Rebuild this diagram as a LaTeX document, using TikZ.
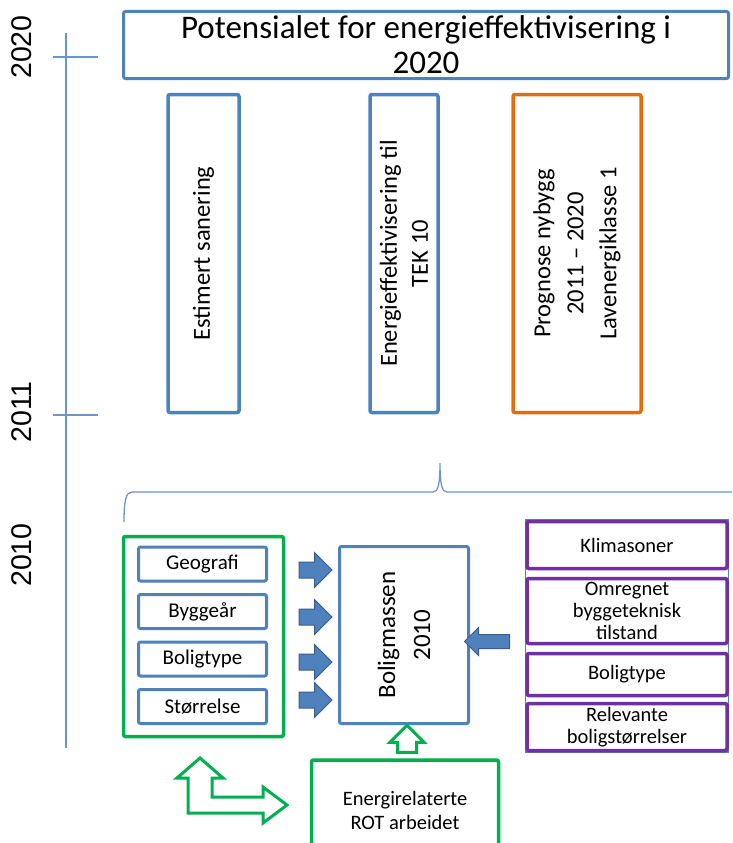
\documentclass[tikz,border=0pt]{standalone}
\usepackage{fontspec}
\setmainfont{Carlito}
\newfontfamily\yearfont{Liberation Sans}
\usepackage{xcolor}
\usepackage{tikz}
\usetikzlibrary{shapes.arrows}

\definecolor{boxblue}{HTML}{4F81BD}
\definecolor{arrowedge}{HTML}{385D8A}
\definecolor{axisblue}{HTML}{6C94CB}
\definecolor{boxgreen}{HTML}{00B050}
\definecolor{boxpurple}{HTML}{7030A0}
\definecolor{boxorange}{HTML}{E46C0A}

\begin{document}
\begin{tikzpicture}[
  x=1pt, y=-1pt,
  every node/.style={inner sep=0pt},
  box/.style={draw, line width=3.5pt, rounded corners=2pt, fill=white, align=center},
  bluebox/.style={box, draw=boxblue},
  greenbox/.style={box, draw=boxgreen},
  orangebox/.style={box, draw=boxorange},
  purplebox/.style={box, draw=boxpurple, minimum width=200, font=\fontsize{20.5}{22}\selectfont},
  itembox/.style={bluebox, line width=3pt, minimum width=128, minimum height=34, font=\fontsize{21}{22}\selectfont},
  upright/.style={rotate=90, font=\fontsize{24.5}{31}\selectfont},
  yearlabel/.style={rotate=90, font=\yearfont\fontsize{28.5}{30}\selectfont},
  blockarrow/.style={shape=single arrow, draw=arrowedge, fill=boxblue, line width=1pt,
    single arrow head extend=9.5pt, inner xsep=0pt, inner ysep=7.5pt, minimum height=33pt},
  hollowarrow/.style={shape=single arrow, draw=boxgreen, fill=white, line width=3pt,
    inner ysep=0pt},
  axis/.style={draw=axisblue, line width=1.8pt}
  ]

\clip (0,0) rectangle (732,843);

% Timeline
\coordinate (axTop) at (66,33);
\coordinate (axBot) at (66,748);
\coordinate (tickL20) at (53,57);
\coordinate (tickR20) at (98,57);
\coordinate (tickL11) at (53,415);
\coordinate (tickR11) at (98,415);
\draw[axis] (axTop) -- (axBot);
\draw[axis] (tickL20) -- (tickR20);
\draw[axis] (tickL11) -- (tickR11);
\node[yearlabel] (y2020) at (22,47) {2020};
\node[yearlabel] (y2011) at (22,412) {2011};
\node[yearlabel] (y2010) at (22,555) {2010};

% Target 2020
\node[bluebox, line width=3pt, minimum width=605, minimum height=67,
  font=\fontsize{33}{35}\selectfont] (title) at (426,45)
  {Potensialet for energieffektivisering i\\2020};
\node[bluebox, upright, minimum width=318, minimum height=71] (sanering) at (203.5,253.5)
  {Estimert sanering};
\node[bluebox, upright, minimum width=318, minimum height=68] (tek) at (404,253.5)
  {Energieffektivisering til\\TEK 10};
\node[orangebox, upright, minimum width=318, minimum height=128,
  font=\fontsize{24.5}{33}\selectfont] (nybygg) at (577,253.5)
  {Prognose nybygg\\2011 -- 2020\\Lavenergiklasse 1};

% Brace
\draw[axis, line width=1.3pt] (124,522) .. controls (124,500) and (126,492) .. (132,492)
  -- (433,492) .. controls (438,492) and (440,485) .. (440,463)
  .. controls (440,485) and (442,492) .. (447,492) -- (760,492);

% Housing stock 2010
\node[greenbox, minimum width=160, minimum height=200] (drivers) at (203.5,636.5) {};
\node[itembox] (geo) at (202.5,564) {Geografi};
\node[itembox] (built) at (202.5,611.5) {Byggeår};
\node[itembox] (kind) at (202.5,659) {Boligtype};
\node[itembox] (size) at (202.5,706.5) {Størrelse};

\node[bluebox, upright, line width=3pt, minimum width=177, minimum height=129,
  font=\fontsize{25}{35}\selectfont] (stock) at (404,635) {Boligmassen\\2010};

\node[blockarrow] (arrGeo) at (311.5,570) {};
\node[blockarrow] (arrBuilt) at (311.5,617) {};
\node[blockarrow] (arrKind) at (311.5,662) {};
\node[blockarrow] (arrSize) at (311.5,700) {};

% Sources on the right
\node[draw=boxblue, line width=1.5pt, minimum width=203, minimum height=232] (sources) at (627,636) {};
\node[purplebox, minimum height=47] (klima) at (627,545) {Klimasoner};
\node[purplebox, minimum height=65] (tilstand) at (627,611) {Omregnet\\byggeteknisk\\tilstand};
\node[purplebox, minimum height=42] (kind2) at (627,674.5) {Boligtype};
\node[purplebox, minimum height=47] (relevant) at (627,727) {Relevante\\boligstørrelser};

\node[blockarrow, shape border rotate=180, minimum height=45pt, inner ysep=6.5pt,
  single arrow head extend=7pt] (arrIn) at (490.5,641.5) {};

% ROT
\node[greenbox, minimum width=187, minimum height=100,
  font=\fontsize{20.5}{24}\selectfont] (rot) at (405,810) {Energirelaterte\\ROT arbeidet};
\node[hollowarrow, shape border rotate=90, minimum height=27pt, inner xsep=8pt,
  single arrow head extend=7.5pt] (arrUp) at (407,743.5) {};
\draw[boxgreen, line width=3pt, fill=white] (200,758) -- (223,778) -- (212,778) -- (212,797)
  -- (263,797) -- (263,787) -- (287,805) -- (263,823) -- (263,813) -- (188,813)
  -- (188,778) -- (177,778) -- cycle;

\end{tikzpicture}
\end{document}
